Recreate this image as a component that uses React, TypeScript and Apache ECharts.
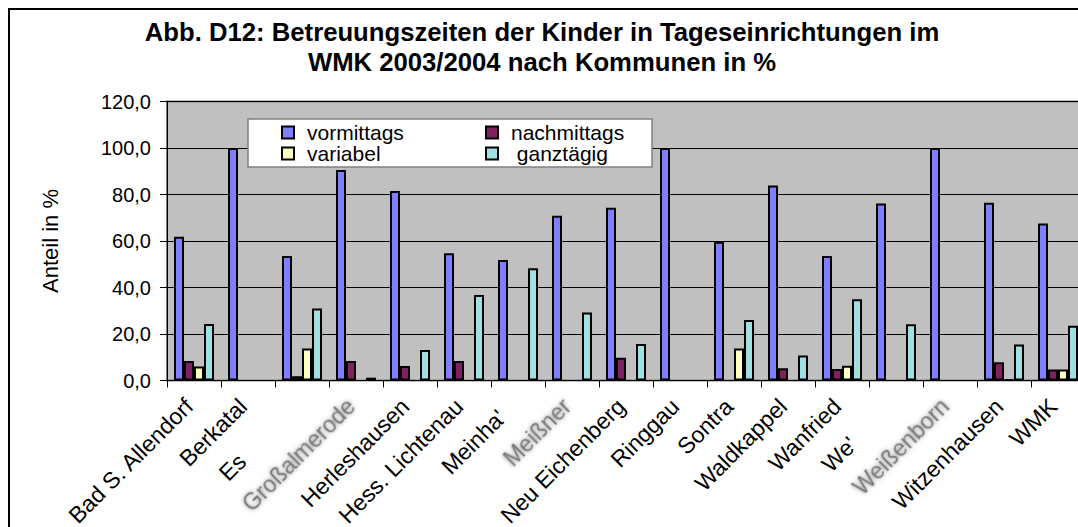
import React, { useEffect, useRef } from 'react';
import * as echarts from 'echarts';

const categories = ['Bad S. Allendorf', 'Berkatal', 'Es', 'Großalmerode', 'Herleshausen', 'Hess. Lichtenau', "Meinha'", 'Meißner', 'Neu Eichenberg', 'Ringgau', 'Sontra', 'Waldkappel', 'Wanfried', "We'", 'Weißenborn', 'Witzenhausen', 'WMK'];
const vormittags = [61.8, 100, 53.5, 90.5, 81.5, 54.7, 51.8, 70.9, 74.3, 100, 59.7, 83.9, 53.5, 76.1, 100, 76.5, 67.5];
const nachmittags = [8.4, null, 1.8, 8.4, 6.2, 8.4, null, null, 9.8, null, null, 5.3, 5.0, null, null, 7.8, 4.7];
const variabel = [6.0, null, 13.8, null, null, null, null, null, null, null, 13.8, null, 6.3, null, null, 0.4, 4.7];
const ganztaegig = [24.3, null, 31.0, 1.2, 13.1, 36.8, 48.3, 29.2, 15.7, null, 26.0, 10.7, 34.9, 24.2, null, 15.5, 23.6];
const seriesNames = ['vormittags', 'nachmittags', 'variabel', 'ganztägig'];
const seriesColors = ['#8080FF', '#802060', '#FFFFC0', '#A0E0E0'];
const blurredLabels = ['Großalmerode', 'Meißner', 'Weißenborn'];
const cutLabels: Record<string, string> = { 'Es': 'es', "Meinha'": 'mh', "We'": 'we' };

const FONT = '"Liberation Sans", Arial, sans-serif';

export default function App() {
  const ref = useRef<HTMLDivElement>(null);
  useEffect(() => {
    if (!ref.current) return;
    const chart = echarts.init(ref.current, null, { renderer: 'svg' });
    const allData = [vormittags, nachmittags, variabel, ganztaegig];
    const legendText = {
      fontSize: 21, fontFamily: FONT, color: '#000', lineHeight: 21, width: 140, padding: [0, 0, 0, 8],
    };
    const XF = 23;
    chart.setOption({
      animation: false,
      backgroundColor: '#fff',
      textStyle: { fontFamily: FONT },
      title: {
        text: 'Abb. D12: Betreuungszeiten der Kinder in Tageseinrichtungen im\nWMK 2003/2004 nach Kommunen in %',
        left: 534, top: 9, padding: 0, textAlign: 'center',
        textStyle: { fontSize: 25.7, fontWeight: 'bold', lineHeight: 30, color: '#000', fontFamily: FONT },
      },
      legend: [
        {
          data: ['vormittags', 'nachmittags'], left: 273, top: 114, padding: 0, orient: 'horizontal',
          itemWidth: 12, itemHeight: 12, itemGap: 38, icon: 'rect', textStyle: legendText, z: 5,
        },
        {
          data: ['variabel', 'ganztägig'], left: 273, top: 135, padding: 0, orient: 'horizontal',
          itemWidth: 12, itemHeight: 12, itemGap: 38, icon: 'rect', textStyle: legendText, z: 5,
          formatter: (n: string) => (n === 'ganztägig' ? ' ' + n : n),
        },
      ],
      graphic: [
        { type: 'polyline', silent: true, z: 0, shape: { points: [[1, 900], [1, 1], [1300, 1]] }, style: { fill: 'none', stroke: '#000', lineWidth: 2 } },
        { type: 'rect', silent: true, z: 3, shape: { x: 240, y: 111, width: 404, height: 48 }, style: { fill: '#fff', stroke: '#808080', lineWidth: 1.5 } },
      ],
      grid: {
        left: 159, top: 93.5, right: 23, bottom: 187.5, show: true,
        backgroundColor: '#C0C0C0', borderColor: '#808080', borderWidth: 2,
      },
      xAxis: {
        type: 'category', data: categories,
        axisLine: { lineStyle: { color: '#000', width: 1 } },
        axisTick: { show: true, interval: 0, length: 7, alignWithLabel: false, lineStyle: { color: '#000' } },
        axisLabel: {
          interval: 0, rotate: 45, margin: 17, fontSize: XF, color: '#000', fontFamily: FONT,
          padding: [0, 7, 0, 0],
          formatter: (v: string) => {
            if (blurredLabels.includes(v)) return '{blur|' + v + '}';
            if (cutLabels[v]) return '{' + cutLabels[v] + '|' + v + '}';
            return v;
          },
          rich: {
            blur: { fontSize: XF, color: '#7a7a7a', textShadowColor: '#8a8a8a', textShadowBlur: 4, fontFamily: FONT },
            es: { fontSize: XF, color: '#000', padding: [0, 78, 0, 0], fontFamily: FONT },
            mh: { fontSize: XF, color: '#000', padding: [0, 16, 0, 0], fontFamily: FONT },
            we: { fontSize: XF, color: '#000', padding: [0, 54, 0, 0], fontFamily: FONT },
          },
        },
        splitLine: { show: false },
      },
      yAxis: {
        type: 'value', min: 0, max: 120, interval: 20,
        name: 'Anteil in %', nameLocation: 'middle', nameGap: 106,
        nameTextStyle: { fontSize: 22, color: '#000', fontFamily: FONT },
        axisLine: { show: true, lineStyle: { color: '#000', width: 1 } },
        axisTick: { show: true, length: 7, lineStyle: { color: '#000' } },
        axisLabel: {
          margin: 16, fontSize: 20, color: '#000', fontFamily: FONT,
          formatter: (v: number) => v.toFixed(1).replace('.', ','),
        },
        splitLine: { show: true, lineStyle: { color: '#000', width: 1 } },
      },
      series: seriesNames.map((name, i) => ({
        name, type: 'bar', data: allData[i], barWidth: 10, barGap: '0%',
        itemStyle: { color: seriesColors[i], borderColor: '#000', borderWidth: 2 },
      })),
    });
    return () => chart.dispose();
  }, []);
  return (
    <div style={{ position: 'fixed', left: 8, top: 8, width: 1070, height: 519, overflow: 'hidden' }}>
      <div ref={ref} style={{ width: 1100, height: 560 }} />
    </div>
  );
}
